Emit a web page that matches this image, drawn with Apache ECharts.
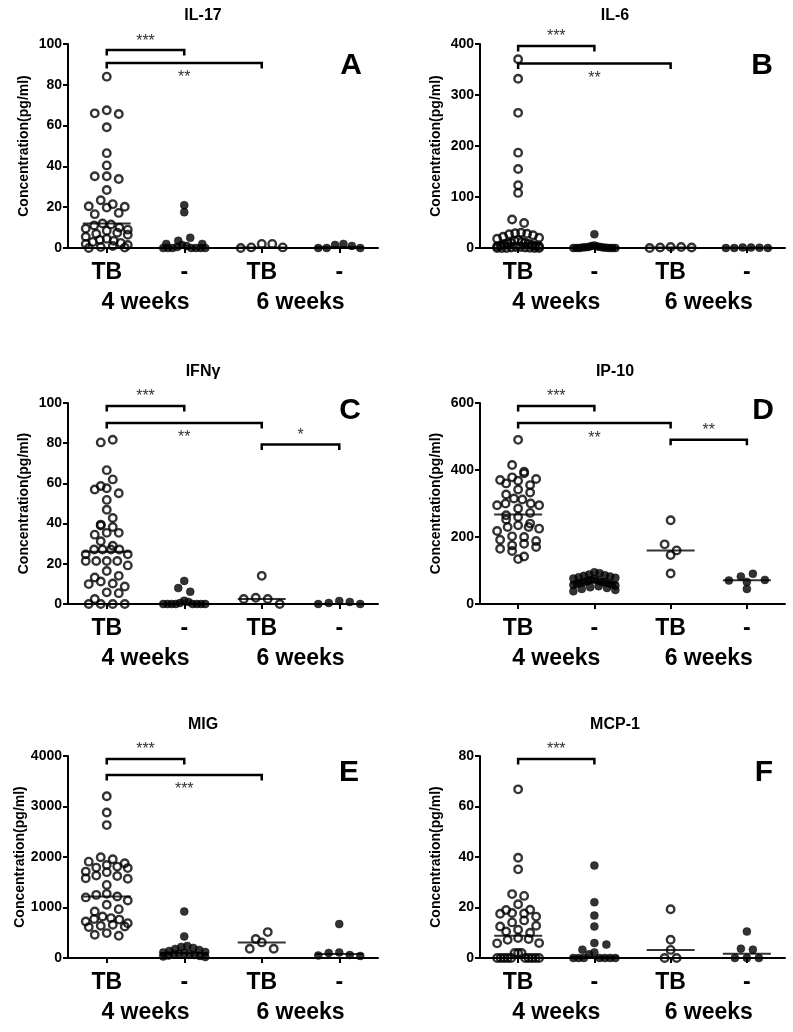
<!DOCTYPE html>
<html>
<head>
<meta charset="utf-8">
<script src="https://cdn.jsdelivr.net/npm/echarts@6/dist/echarts.min.js"></script>
<style>
html,body{margin:0;padding:0;background:#fff;}
#chart{width:793px;height:1032px;}
</style>
</head>
<body>
<div id="chart"></div>
<script>
// ---------------- DATA ----------------
const panelTitles = ['IL-17', 'IL-6', 'IFNγ', 'IP-10', 'MIG', 'MCP-1'];
const panelLetters = ['A', 'B', 'C', 'D', 'E', 'F'];
const groupLabels = ['TB', '-', 'TB', '-'];
const weekLabels = ['4 weeks', '6 weeks'];
const yAxisTitle = 'Concentration(pg/ml)';
const yMaxes = [100, 400, 100, 600, 4000, 80];
const yIntervals = [20, 100, 20, 200, 1000, 20];

// IL-17
const il17_tb4 = [84, 67.5, 66, 65.7, 59.2, 46.5, 40.5, 35.2, 35.2, 33.8, 28.4, 23.4, 21.5, 20.5, 20.2, 19.8, 17.2, 16.6, 12, 11.5, 11, 10, 9.5, 9, 8.5, 7.5, 7, 6.5, 5.5, 4.5, 4, 3.5, 3, 2.5, 2, 1.5, 1, 0.5, 0.2, 0];
const il17_neg4 = [21, 17.5, 5, 3.5, 2, 2, 1.5, 1, 0.5, 0, 0, 0, 0, 0, 0, 0];
const il17_tb6 = [2, 2, 0.3, 0.3, 0];
const il17_neg6 = [2, 1.5, 1, 0, 0, 0];
const il17_medians = [12, 0, 0.3, 0.5];
const il17_brackets = [[0, 1, 97], [0, 2, 90.7]];
const il17_stars = ['***', '**'];

// IL-6
const il6_tb4 = [370, 332, 265, 187, 155, 123, 108, 56, 49, 30, 29, 28, 27, 25, 22, 20, 18, 16, 14, 12, 10, 10, 9, 8, 7, 6, 5, 4, 3, 3, 2, 2, 1, 1, 0.5, 0, 0, 0, 0, 0];
const il6_neg4 = [27, 5, 4, 3, 2, 2, 1.5, 1, 1, 0.5, 0, 0, 0, 0, 0, 0];
const il6_tb6 = [2, 2, 1, 1, 0];
const il6_neg6 = [1, 1, 0.5, 0, 0, 0];
const il6_medians = [10, 0.5, 1, 0.5];
const il6_brackets = [[0, 1, 396], [0, 2, 362]];
const il6_stars = ['***', '**'];

// IFNγ
const ifng_tb4 = [81.7, 80.4, 66.6, 62, 58.7, 57.6, 57, 55.1, 51.8, 46.9, 42.8, 39.5, 39, 38.3, 35.4, 35.4, 34.5, 31.2, 29, 27.1, 27.1, 27.1, 27.1, 24.7, 24.7, 21.4, 21.4, 21.4, 21.4, 19.2, 16.4, 14, 13.2, 11.2, 10.2, 9.9, 8.7, 5.8, 5.4, 2.5, 0, 0, 0, 0];
const ifng_neg4 = [11.5, 7.9, 6.1, 1.6, 1, 0.5, 0, 0, 0, 0, 0, 0, 0, 0];
const ifng_tb6 = [14, 3.1, 2.5, 2.5, 0];
const ifng_neg6 = [1.5, 1, 0.5, 0, 0];
const ifng_medians = [26, 0, 2.5, 0];
const ifng_brackets = [[0, 1, 98.5], [0, 2, 90.1], [2, 3, 79.3]];
const ifng_stars = ['***', '**', '*'];

// IP-10
const ip10_tb4 = [490, 415, 395, 390, 378, 373, 370, 368, 360, 355, 342, 333, 327, 315, 312, 300, 300, 295, 295, 285, 272, 265, 260, 252, 240, 235, 230, 230, 225, 218, 202, 200, 192, 188, 180, 175, 170, 165, 158, 142, 134];
const ip10_neg4 = [95, 92, 88, 86, 84, 82, 80, 78, 76, 74, 72, 70, 68, 66, 65, 64, 63, 62, 60, 58, 57, 55, 53, 50, 48, 45, 42, 38];
const ip10_tb6 = [250, 178, 160, 146, 91];
const ip10_neg6 = [90, 82, 72, 70, 66, 45];
const ip10_medians = [267, 64, 160, 71];
const ip10_brackets = [[0, 1, 591], [0, 2, 540], [2, 3, 490]];
const ip10_stars = ['***', '**', '**'];

// MIG
const mig_tb4 = [3204, 2882, 2632, 1994, 1954, 1908, 1875, 1842, 1810, 1790, 1780, 1711, 1700, 1632, 1625, 1580, 1570, 1448, 1270, 1250, 1217, 1200, 1138, 1053, 967, 921, 822, 790, 770, 760, 724, 690, 658, 640, 625, 612, 493, 460, 441];
const mig_neg4 = [921, 428, 240, 220, 200, 180, 160, 140, 120, 110, 100, 90, 80, 70, 60, 50, 40, 30, 20];
const mig_tb6 = [513, 375, 309, 184, 184];
const mig_neg6 = [671, 110, 100, 60, 50, 40];
const mig_medians = [1217, 99, 309, 79];
const mig_brackets = [[0, 1, 3941], [0, 2, 3624]];
const mig_stars = ['***', '***'];

// MCP-1
const mcp1_tb4 = [66.8, 39.7, 35.1, 25.3, 24.6, 21.3, 19.1, 19, 17.8, 17.6, 17.5, 16.4, 14.9, 14.1, 12.8, 12.5, 11.2, 10.5, 10, 7.9, 7.5, 7.2, 5.9, 5.8, 2, 2, 2, 0, 0, 0, 0, 0, 0, 0, 0, 0, 0];
const mcp1_neg4 = [36.6, 22.1, 16.8, 12.5, 5.9, 5.3, 3.3, 2.2, 1.5, 0, 0, 0, 0, 0, 0, 0];
const mcp1_tb6 = [19.3, 7.2, 3.2, 0, 0];
const mcp1_neg6 = [10.5, 3.7, 3.3, 0, 0, 0];
const mcp1_medians = [8.8, 0.5, 3.2, 1.7];
const mcp1_brackets = [[0, 1, 78.8]];
const mcp1_stars = ['***'];

// ---------------- ASSEMBLY ----------------
const panelGroups = [
  [il17_tb4, il17_neg4, il17_tb6, il17_neg6],
  [il6_tb4, il6_neg4, il6_tb6, il6_neg6],
  [ifng_tb4, ifng_neg4, ifng_tb6, ifng_neg6],
  [ip10_tb4, ip10_neg4, ip10_tb6, ip10_neg6],
  [mig_tb4, mig_neg4, mig_tb6, mig_neg6],
  [mcp1_tb4, mcp1_neg4, mcp1_tb6, mcp1_neg6]
];
const panelMedians = [il17_medians, il6_medians, ifng_medians, ip10_medians, mig_medians, mcp1_medians];
const panelBrackets = [il17_brackets, il6_brackets, ifng_brackets, ip10_brackets, mig_brackets, mcp1_brackets];
const panelStars = [il17_stars, il6_stars, ifng_stars, ip10_stars, mig_stars, mcp1_stars];

// ---------------- LAYOUT ----------------
const FONT = '"Liberation Sans", Arial, Helvetica, sans-serif';
const rowTop = [44, 403, 756];
const rowZero = [248, 604, 958];
const colLeft = [68, 480];
const colWidth = [310, 305];
const titleX = [203, 615];
const titleY = [16, 372, 725];
const letterPos = [[351, 66], [762, 66], [350, 411], [763, 411], [349, 773], [764, 773]];

const ROW_H = 7;     // px height of a swarm row
const STEP = 12;     // px spacing between neighbours
const MAX_SPAN = 42; // px max total width of a row

function swarmOffsets(values, pxPerUnit) {
  const idx = values.map((v, i) => [v, i]).sort((a, b) => b[0] - a[0]);
  const rows = [];
  let cur = null;
  for (const [v, i] of idx) {
    const py = v * pxPerUnit;
    if (cur && cur.start - py < ROW_H) cur.items.push(i);
    else { cur = { start: py, items: [i] }; rows.push(cur); }
  }
  const off = new Array(values.length).fill(0);
  rows.forEach((r, ri) => {
    const n = r.items.length;
    const sp = n > 1 ? Math.min(STEP, MAX_SPAN / (n - 1)) : 0;
    const slots = [];
    for (let k = 0; k < n; k++) slots.push((k - (n - 1) / 2) * sp);
    slots.sort((a, b) => Math.abs(a) - Math.abs(b) || (ri % 2 ? a - b : b - a));
    r.items.forEach((item, k) => { off[item] = slots[k]; });
  });
  return off;
}

const grids = [], xAxes = [], yAxes = [], series = [], graphics = [];

for (let p = 0; p < 6; p++) {
  const col = p % 2, row = Math.floor(p / 2);
  const gTop = rowTop[row], gH = rowZero[row] - rowTop[row];
  const gL = colLeft[col], gW = colWidth[col];
  grids.push({ left: gL, top: gTop, width: gW, height: gH, containLabel: false });

  const labelFont = { fontFamily: FONT, fontWeight: 'bold', fontSize: 23, color: '#000' };
  xAxes.push({
    type: 'category', gridIndex: p, data: groupLabels, position: 'bottom',
    axisLine: { show: true, onZero: false, lineStyle: { color: '#000', width: 2 } },
    axisTick: { show: true, alignWithLabel: true, length: 5, lineStyle: { color: '#000', width: 2 } },
    axisLabel: Object.assign({ margin: 13, interval: 0 }, labelFont),
    splitLine: { show: false }
  });
  xAxes.push({
    type: 'category', gridIndex: p, data: weekLabels, position: 'bottom', offset: 30,
    axisLine: { show: false, onZero: false }, axisTick: { show: false },
    axisLabel: Object.assign({ margin: 13, interval: 0 }, labelFont),
    splitLine: { show: false }
  });
  xAxes.push({ type: 'value', gridIndex: p, min: -0.5, max: 3.5, show: false, axisLine: { onZero: false } });

  yAxes.push({
    type: 'value', gridIndex: p, min: 0, max: yMaxes[p], interval: yIntervals[p],
    name: yAxisTitle, nameLocation: 'middle', nameGap: 37,
    nameTextStyle: { fontFamily: FONT, fontWeight: 'bold', fontSize: 14, color: '#000' },
    axisLine: { show: true, onZero: false, lineStyle: { color: '#000', width: 2 } },
    axisTick: { show: true, length: 5, lineStyle: { color: '#000', width: 2 } },
    axisLabel: { fontFamily: FONT, fontWeight: 'bold', fontSize: 14, color: '#000', margin: 6,
      formatter: v => String(v) },
    splitLine: { show: false }
  });

  const pxPerUnit = gH / yMaxes[p];
  const pxPerGroup = gW / 4;
  const groups = panelGroups[p];
  for (let g = 0; g < 4; g++) {
    const vals = groups[g];
    const off = swarmOffsets(vals, pxPerUnit);
    const open = (g % 2 === 0);
    series.push({
      type: 'scatter', xAxisIndex: 3 * p + 2, yAxisIndex: p, clip: false,
      symbol: 'circle', symbolSize: open ? 7.5 : 8,
      itemStyle: open ? { color: 'rgba(255,255,255,0)', borderColor: '#000', borderWidth: 2.4 }
                      : { color: '#000', borderColor: '#000', borderWidth: 0.5 },
      emphasis: { disabled: true },
      data: vals.map((v, i) => [g + off[i] / pxPerGroup, v]),
      z: 3
    });
  }
  series.push({
    type: 'scatter', xAxisIndex: 3 * p + 2, yAxisIndex: p, clip: false,
    symbol: 'rect', symbolSize: [48, 2], itemStyle: { color: '#000' },
    emphasis: { disabled: true },
    data: panelMedians[p].map((m, g) => [g, m]), z: 4
  });
  const stars = panelStars[p];
  series.push({
    type: 'custom', xAxisIndex: 3 * p + 2, yAxisIndex: p, clip: false,
    encode: { x: [0, 1], y: 2 },
    data: panelBrackets[p],
    renderItem: function (params, api) {
      const a = api.coord([api.value(0), api.value(2)]);
      const b = api.coord([api.value(1), api.value(2)]);
      const below = api.value(1) - api.value(0) > 1;
      const DROP = 5.5;
      return {
        type: 'group', children: [
          { type: 'polyline', shape: { points: [[a[0], a[1] + DROP], [a[0], a[1]], [b[0], b[1]], [b[0], b[1] + DROP]] },
            style: { stroke: '#000', lineWidth: 2.5, fill: null } },
          { type: 'text', style: { text: stars[params.dataIndex], x: (a[0] + b[0]) / 2, y: below ? a[1] + 15 : a[1] - 9,
            textAlign: 'center', textVerticalAlign: 'middle', font: '16px ' + FONT, fill: '#333' } }
        ]
      };
    },
    z: 5
  });

  graphics.push({
    type: 'text', style: { text: panelTitles[p], x: titleX[col], y: titleY[row], textAlign: 'center', textVerticalAlign: 'middle',
      font: 'bold 16px ' + FONT, fill: '#000' } });
  graphics.push({
    type: 'text', style: { text: panelLetters[p], x: letterPos[p][0], y: letterPos[p][1], textAlign: 'center', textVerticalAlign: 'middle',
      font: 'bold 30px ' + FONT, fill: '#000' } });
}

const chart = echarts.init(document.getElementById('chart'), null, { renderer: 'canvas' });
chart.setOption({
  animation: false,
  backgroundColor: '#fff',
  grid: grids, xAxis: xAxes, yAxis: yAxes, series: series, graphic: graphics
});
</script>
</body>
</html>
